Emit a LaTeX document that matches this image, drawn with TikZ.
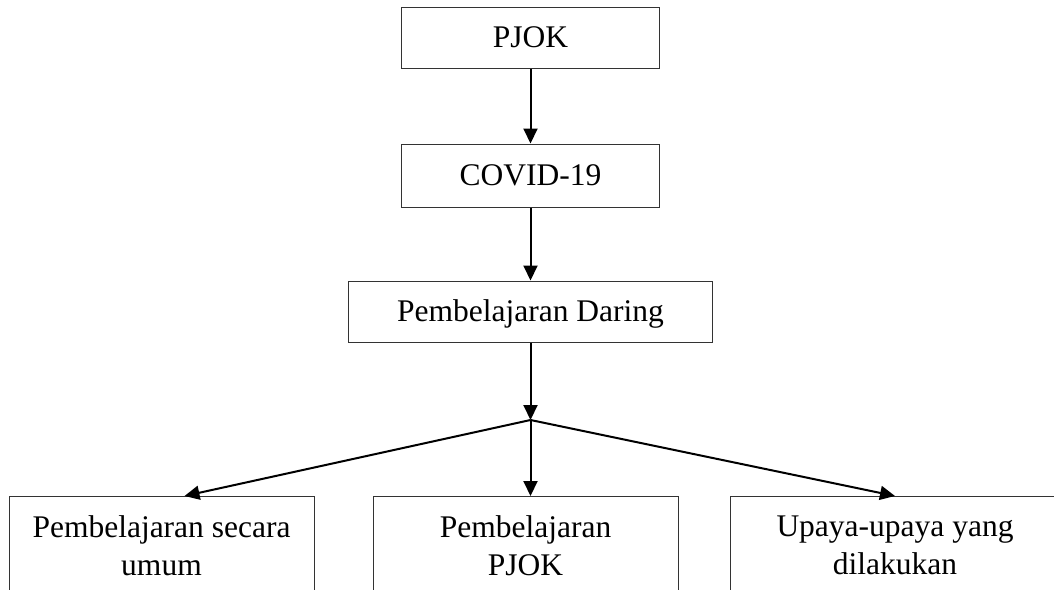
\documentclass[tikz,border=0pt]{standalone}
\usepackage{fontspec}
\setmainfont{Liberation Serif}
\usetikzlibrary{arrows.meta}

\begin{document}
\begin{tikzpicture}
[x=1pt,y=-1pt,
box/.style={draw=black!80,line width=1pt,font=\fontsize{31.5}{38}\selectfont,align=center},
topbox/.style={box,minimum width=258pt,minimum height=61pt,text height=21pt,text depth=1pt},
subbox/.style={box,anchor=north,minimum width=305pt,inner ysep=19pt},
arr/.style={-{Triangle[length=15pt,width=14pt]},line width=2pt},
]
\useasboundingbox (0,0) rectangle (1054,589);
\clip (0,0) rectangle (1054,589);

\node[topbox] (pjok) at (530.5,37.5) {PJOK};
\node[topbox,minimum height=63pt] (covid) at (530.5,175.5) {COVID-19};
\node[topbox,minimum width=364pt] (daring) at (530.5,311.5) {Pembelajaran Daring};
\coordinate (split) at (530.5,420);
\node[subbox] (umum) at (161.5,496) {Pembelajaran secara\\umum};
\node[subbox] (ajarpjok) at (525.5,496) {Pembelajaran\\PJOK};
\node[subbox,minimum width=330pt] (upaya) at (895,496) {Upaya-upaya yang\\dilakukan};

\draw[arr] (pjok) -- (covid);
\draw[arr] (covid) -- (daring);
\draw[arr] (daring) -- (split);
\draw[arr] (split) -- ([xshift=23pt]umum.north);
\draw[arr] (split) -- (ajarpjok.north -| split);
\draw[arr] (split) -- (upaya.north);
\end{tikzpicture}
\end{document}
